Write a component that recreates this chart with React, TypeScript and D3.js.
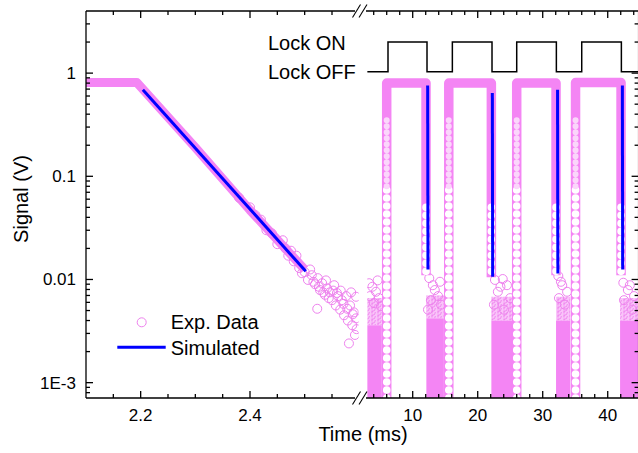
import React, { useEffect, useRef } from 'react';
import * as d3 from 'd3';

// x axes (ms), broken in two panels
const leftDomain = [2.1, 2.595];
const leftMajor = [2.2, 2.4];
const leftMinor = [2.15, 2.25, 2.3, 2.35, 2.45, 2.5, 2.55];
const rightDomain = [3, 44.75];
const rightMajor = [10, 20, 30, 40];
const rightMinor = [4, 6, 8, 12, 14, 16, 18, 22, 24, 26, 28, 32, 34, 36, 38, 42, 44];

// y axis (V, log)
const yDomain = [7.1e-4, 4];
const yMajor = [1e-3, 1e-2, 1e-1, 1];
const yLabels = ['1E-3', '0.01', '0.1', '1'];

// left panel: dense experimental trace, then scattered tail
const expLeftTrace = [[2.1, 0.81], [2.193, 0.81], [2.3, 0.19], [2.4, 0.047], [2.5, 0.0125]];
const expLeftRings = [
  [2.38, 0.062], [2.4, 0.05], [2.41, 0.042], [2.42, 0.038], [2.43, 0.03],
  [2.44, 0.028], [2.45, 0.022], [2.46, 0.024], [2.465, 0.02], [2.47, 0.017], [2.475, 0.019], [2.48, 0.015],
  [2.485, 0.017], [2.49, 0.0129], [2.495, 0.0115], [2.5, 0.0118], [2.506, 0.0099], [2.51, 0.0125], [2.513, 0.011],
  [2.516, 0.0095], [2.519, 0.009], [2.523, 0.0052], [2.524, 0.0103], [2.526, 0.0085], [2.528, 0.0079], [2.532, 0.0092],
  [2.534, 0.0075], [2.537, 0.0071], [2.539, 0.0098], [2.541, 0.0082], [2.544, 0.0066], [2.546, 0.0075], [2.55, 0.0063],
  [2.552, 0.0078], [2.554, 0.0088], [2.557, 0.0056], [2.559, 0.0074], [2.561, 0.0069], [2.565, 0.0051], [2.566, 0.0078],
  [2.568, 0.0063], [2.571, 0.0058], [2.572, 0.0045], [2.576, 0.0069], [2.578, 0.0052], [2.579, 0.004], [2.581, 0.0024],
  [2.583, 0.0056], [2.585, 0.0075], [2.587, 0.0036], [2.588, 0.0046], [2.59, 0.0048], [2.592, 0.0029], [2.594, 0.0068],
  [2.594, 0.0042], [2.595, 0.0033],
];
const simLeft = [[2.204, 0.69], [2.502, 0.012]];

// right panel: lock cycles
const expRise = [6.0, 15.55, 26.0, 35.05];
const expFall = [12.05, 22.1, 32.05, 42.05];
const expOnLevel = [0.8, 0.8, 0.8, 0.81];
const expFallEnd = [0.011, 0.0105, 0.011, 0.011];

const simFall = [12.3, 22.25, 32.28, 42.25];
const simTop = [0.76, 0.64, 0.69, 0.76];
const simEnd = [0.0125, 0.0106, 0.0114, 0.0125];

const noiseStart = [3.0, 12.1, 22.1, 32.05, 41.9];
const noiseEnd = [5.25, 14.8, 25.4, 34.25, 44.75];
const noiseSolid = [0.0036, 0.0042, 0.004, 0.004, 0.004];
const noiseHaze = [0.0066, 0.007, 0.0068, 0.0068, 0.0066];
const noiseRings = [
  [3.8, 0.0085], [4.35, 0.0076], [3.4, 0.0069], [4.8, 0.0066], [4.05, 0.0059], [5.1, 0.0055], [3.3, 0.0092], [4.6, 0.0098],
  [12.55, 0.0103], [14.2, 0.0095], [13.4, 0.0079], [12.8, 0.0063], [13.9, 0.0069], [12.35, 0.0051], [14.35, 0.0057], [13.1, 0.0088],
  [22.65, 0.0099], [23.85, 0.0101], [24.5, 0.0088], [23.1, 0.0076], [25.0, 0.0066], [22.5, 0.0057], [24.05, 0.0051], [23.5, 0.0085],
  [32.4, 0.0108], [33.0, 0.0088], [33.75, 0.0076], [32.5, 0.0066], [33.4, 0.0057], [32.8, 0.0095],
  [42.4, 0.0093], [43.1, 0.0079], [44.05, 0.0069], [42.5, 0.0063], [43.75, 0.0051], [43.4, 0.0088],
];

const lockOn = [6.2, 16.1, 26.0, 36.0];
const lockOff = [12.2, 22.2, 32.1, 42.1];
const lockHigh = 2.0;
const lockLow = 1.03;

const PINK = '#f485f4';
const RING = '#ee82ee';
const BLUE = '#0000ff';
const FONT = '"Liberation Sans", Arial, sans-serif';

export default function App() {
  const svgRef = useRef<SVGSVGElement>(null);

  useEffect(() => {
    const svg = d3.select(svgRef.current);
    svg.selectAll('*').remove();

    const top = 11, bottom = 398, left = 86, right = 638.6;
    const xl = d3.scaleLinear().domain(leftDomain).range([left, 356.6]);
    const xr = d3.scaleLinear().domain(rightDomain).range([367.2, right]);
    const y = d3.scaleLog().domain(yDomain).range([bottom, top]);

    const defs = svg.append('defs');
    defs.append('clipPath').attr('id', 'clipL').append('rect')
      .attr('x', left).attr('y', top).attr('width', 356.6 - left + 2).attr('height', bottom - top);
    defs.append('clipPath').attr('id', 'clipR').append('rect')
      .attr('x', 367.2).attr('y', top).attr('width', right - 367.2).attr('height', bottom - top);
    // texture of overlapping open circles for the noise floor
    const pat = defs.append('pattern').attr('id', 'rings').attr('patternUnits', 'userSpaceOnUse')
      .attr('width', 6).attr('height', 4);
    pat.append('rect').attr('width', 6).attr('height', 4).attr('fill', '#f9c4f9');
    pat.append('circle').attr('cx', 3).attr('cy', 2).attr('r', 3.4)
      .attr('fill', 'none').attr('stroke', RING).attr('stroke-width', 0.9);
    pat.append('circle').attr('cx', 0).attr('cy', 0).attr('r', 3.4)
      .attr('fill', 'none').attr('stroke', RING).attr('stroke-width', 0.9);

    // ---- left panel
    const gl = svg.append('g').attr('clip-path', 'url(#clipL)');
    const lineL = d3.line<number[]>().x((d) => xl(d[0])).y((d) => y(d[1]));
    gl.append('path').attr('d', lineL(expLeftTrace)).attr('fill', 'none')
      .attr('stroke', PINK).attr('stroke-width', 9).attr('stroke-linejoin', 'round');
    gl.selectAll('.ring').data(expLeftRings).enter().append('circle')
      .attr('cx', (d) => xl(d[0])).attr('cy', (d) => y(d[1])).attr('r', 4.5)
      .attr('fill', 'none').attr('stroke', RING).attr('stroke-width', 1);
    gl.append('path').attr('d', lineL(simLeft)).attr('fill', 'none')
      .attr('stroke', BLUE).attr('stroke-width', 3);

    // ---- right panel
    const gr = svg.append('g').attr('clip-path', 'url(#clipR)');
    const lineR = d3.line<number[]>().x((d) => xr(d[0])).y((d) => y(d[1]));

    noiseStart.forEach((t0, i) => {
      gr.append('rect').attr('x', xr(t0)).attr('width', xr(noiseEnd[i]) - xr(t0))
        .attr('y', y(noiseHaze[i])).attr('height', y(noiseSolid[i]) - y(noiseHaze[i]))
        .attr('fill', 'url(#rings)');
      gr.append('rect').attr('x', xr(t0)).attr('width', xr(noiseEnd[i]) - xr(t0))
        .attr('y', y(noiseSolid[i])).attr('height', bottom - y(noiseSolid[i]))
        .attr('fill', PINK);
    });
    gr.selectAll('.nring').data(noiseRings).enter().append('circle')
      .attr('cx', (d) => xr(d[0])).attr('cy', (d) => y(d[1])).attr('r', 4.5)
      .attr('fill', 'none').attr('stroke', RING).attr('stroke-width', 1);

    expRise.forEach((t, i) => {
      const pts = [[t, yDomain[0]], [t, expOnLevel[i]], [expFall[i], expOnLevel[i]], [expFall[i], expFallEnd[i]]];
      gr.append('path').attr('d', lineR(pts)).attr('fill', 'none')
        .attr('stroke', PINK).attr('stroke-width', 9.5).attr('stroke-linejoin', 'round');
      // stacked open circles on the vertical edges
      gr.append('path').attr('d', lineR([[t, yDomain[0]], [t, 0.08]])).attr('fill', 'none')
        .attr('stroke', '#fff').attr('stroke-width', 7.6).attr('stroke-linecap', 'round')
        .attr('stroke-dasharray', '0 8');
      gr.append('path').attr('d', lineR([[t, 0.08], [t, 0.35]])).attr('fill', 'none')
        .attr('stroke', '#fbd6fb').attr('stroke-width', 6).attr('stroke-linecap', 'round')
        .attr('stroke-dasharray', '0 6');
      gr.append('path').attr('d', lineR([[expFall[i], 0.05], [expFall[i], expFallEnd[i]]])).attr('fill', 'none')
        .attr('stroke', '#fff').attr('stroke-width', 7.6).attr('stroke-linecap', 'round')
        .attr('stroke-dasharray', '0 8');
    });

    simFall.forEach((t, i) => {
      gr.append('path').attr('d', lineR([[t, simTop[i]], [t + 0.05, simEnd[i]]])).attr('fill', 'none')
        .attr('stroke', BLUE).attr('stroke-width', 3);
    });

    const lockPts: number[][] = [[rightDomain[0], lockLow]];
    lockOn.forEach((t, i) => {
      lockPts.push([t, lockLow], [t, lockHigh], [lockOff[i], lockHigh], [lockOff[i], lockLow]);
    });
    lockPts.push([rightDomain[1], lockLow]);
    gr.append('path').attr('d', lineR(lockPts)).attr('fill', 'none')
      .attr('stroke', '#000').attr('stroke-width', 1.5);

    // ---- axes frame
    const ax = svg.append('g').attr('stroke', '#000').attr('stroke-width', 1.3).attr('fill', 'none');
    ax.append('line').attr('x1', left).attr('x2', left).attr('y1', top).attr('y2', bottom);
    ax.append('line').attr('x1', right).attr('x2', right).attr('y1', top).attr('y2', bottom);
    [top, bottom].forEach((yy) => {
      ax.append('line').attr('x1', left).attr('x2', 355).attr('y1', yy).attr('y2', yy);
      ax.append('line').attr('x1', 366).attr('x2', right).attr('y1', yy).attr('y2', yy);
      [356.5, 363].forEach((cx) => {
        ax.append('line').attr('x1', cx - 4).attr('x2', cx + 4).attr('y1', yy + 6.5).attr('y2', yy - 6.5)
          .attr('stroke-width', 1.1);
      });
    });

    // x ticks (inward, top and bottom)
    const xTick = (xs: number[], len: number) => {
      xs.forEach((px) => {
        ax.append('line').attr('x1', px).attr('x2', px).attr('y1', bottom).attr('y2', bottom - len);
        ax.append('line').attr('x1', px).attr('x2', px).attr('y1', top).attr('y2', top + len);
      });
    };
    xTick(leftMajor.map(xl), 7);
    xTick(leftMinor.map(xl), 4);
    xTick(rightMajor.map(xr), 7);
    xTick(rightMinor.map(xr), 4);

    // y ticks (inward, left and right)
    const yMinor: number[] = [];
    [1e-4, 1e-3, 1e-2, 1e-1, 1].forEach((dec) => {
      for (let k = 2; k <= 9; k++) {
        const v = dec * k;
        if (v > yDomain[0] && v < yDomain[1]) yMinor.push(v);
      }
    });
    const yTick = (vs: number[], len: number) => {
      vs.forEach((v) => {
        ax.append('line').attr('x1', left).attr('x2', left + len).attr('y1', y(v)).attr('y2', y(v));
        ax.append('line').attr('x1', right).attr('x2', right - len).attr('y1', y(v)).attr('y2', y(v));
      });
    };
    yTick(yMajor, 7);
    yTick(yMinor, 4);

    // labels
    const tx = svg.append('g').attr('font-family', FONT).attr('fill', '#000');
    yMajor.forEach((v, i) => {
      tx.append('text').attr('x', 76).attr('y', y(v)).attr('dy', '0.35em')
        .attr('text-anchor', 'end').attr('font-size', 17).text(yLabels[i]);
    });
    leftMajor.forEach((v) => {
      tx.append('text').attr('x', xl(v)).attr('y', 421).attr('text-anchor', 'middle')
        .attr('font-size', 17).text(String(v));
    });
    rightMajor.forEach((v) => {
      tx.append('text').attr('x', xr(v)).attr('y', 421).attr('text-anchor', 'middle')
        .attr('font-size', 17).text(String(v));
    });
    tx.append('text').attr('x', 363).attr('y', 441).attr('text-anchor', 'middle')
      .attr('font-size', 20).text('Time (ms)');
    tx.append('text').attr('transform', 'translate(27.5,199) rotate(-90)').attr('text-anchor', 'middle')
      .attr('font-size', 20).text('Signal (V)');
    tx.append('text').attr('x', 268).attr('y', 49.5).attr('font-size', 20).text('Lock ON');
    tx.append('text').attr('x', 268).attr('y', 79).attr('font-size', 20).text('Lock OFF');

    // legend
    svg.append('circle').attr('cx', 141.7).attr('cy', 322.3).attr('r', 4.5)
      .attr('fill', 'none').attr('stroke', RING).attr('stroke-width', 1);
    tx.append('text').attr('x', 170.7).attr('y', 329).attr('font-size', 20).text('Exp. Data');
    svg.append('line').attr('x1', 117.3).attr('x2', 165.7).attr('y1', 347.3).attr('y2', 347.3)
      .attr('stroke', BLUE).attr('stroke-width', 3);
    tx.append('text').attr('x', 170.7).attr('y', 355).attr('font-size', 20).text('Simulated');
  }, []);

  return (
    <>
      <style>{'body{margin:0;}'}</style>
      <svg ref={svgRef} width={638} height={453} style={{ display: 'block', background: '#fff' }} />
    </>
  );
}
